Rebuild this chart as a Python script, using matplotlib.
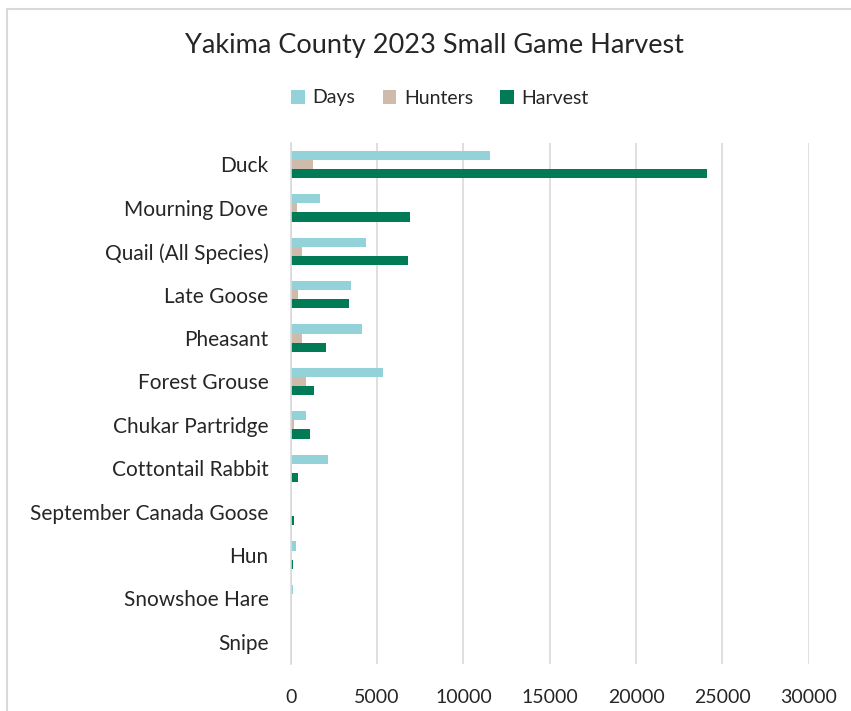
import matplotlib.pyplot as plt
from matplotlib.patches import Rectangle
import numpy as np

# data
species = ['Duck', 'Mourning Dove', 'Quail (All Species)', 'Late Goose', 'Pheasant',
           'Forest Grouse', 'Chukar Partridge', 'Cottontail Rabbit',
           'September Canada Goose', 'Hun', 'Snowshoe Hare', 'Snipe']
days = [11560, 1700, 4380, 3470, 4130, 5330, 870, 2180, 0, 320, 150, 0]
hunters = [1270, 380, 640, 440, 670, 870, 210, 90, 0, 0, 0, 0]
harvest = [24100, 6930, 6810, 3360, 2060, 1330, 1100, 400, 170, 120, 0, 0]

plt.rcParams['font.family'] = ['Lato', 'DejaVu Sans']

fig = plt.figure(figsize=(8.51, 7.11), dpi=100)
ax = fig.add_axes([0.3416, 0.0667, 0.6088, 0.7325])

y = np.arange(len(species))
h = 0.21
ax.barh(y - h, days, height=h, color='#94D2D9', label='Days')
ax.barh(y, hunters, height=h, color='#CEBBAC', label='Hunters')
ax.barh(y + h, harvest, height=h, color='#007B55', label='Harvest')

ax.set_xlim(0, 30000)
ax.set_ylim(len(species) - 0.5, -0.5)
ax.set_xticks(range(0, 30001, 5000))
ax.set_yticks(y)
ax.set_yticklabels(species)
ax.tick_params(axis='both', length=0, colors='#262626')
ax.tick_params(axis='x', pad=18, labelsize=14)
ax.tick_params(axis='y', pad=16, labelsize=15)
ax.grid(axis='x', color='#d9d9d9', linewidth=1.2)
ax.set_axisbelow(True)
for s in ['top', 'right', 'bottom']:
    ax.spines[s].set_visible(False)
ax.spines['left'].set_color('#d9d9d9')
ax.spines['left'].set_linewidth(1.2)

fig.text(0.511, 1 - 45 / 711, 'Yakima County 2023 Small Game Harvest',
         ha='center', va='center', fontsize=19.5, color='#262626')
fig.legend(loc='center', bbox_to_anchor=(0.517, 1 - 98 / 711), ncol=3,
           frameon=False, fontsize=14, handlelength=0.7, handleheight=0.7,
           handletextpad=0.4, columnspacing=1.4, labelcolor='#262626')

# chart border (right and bottom edges fall outside the picture)
fig.patches.append(Rectangle((7 / 851, -0.1), 1.2, 1.1 - 9 / 711, transform=fig.transFigure,
                             fill=False, edgecolor='#d9d9d9', linewidth=1.5))

fig.savefig('out.png', dpi=100, facecolor='white')
